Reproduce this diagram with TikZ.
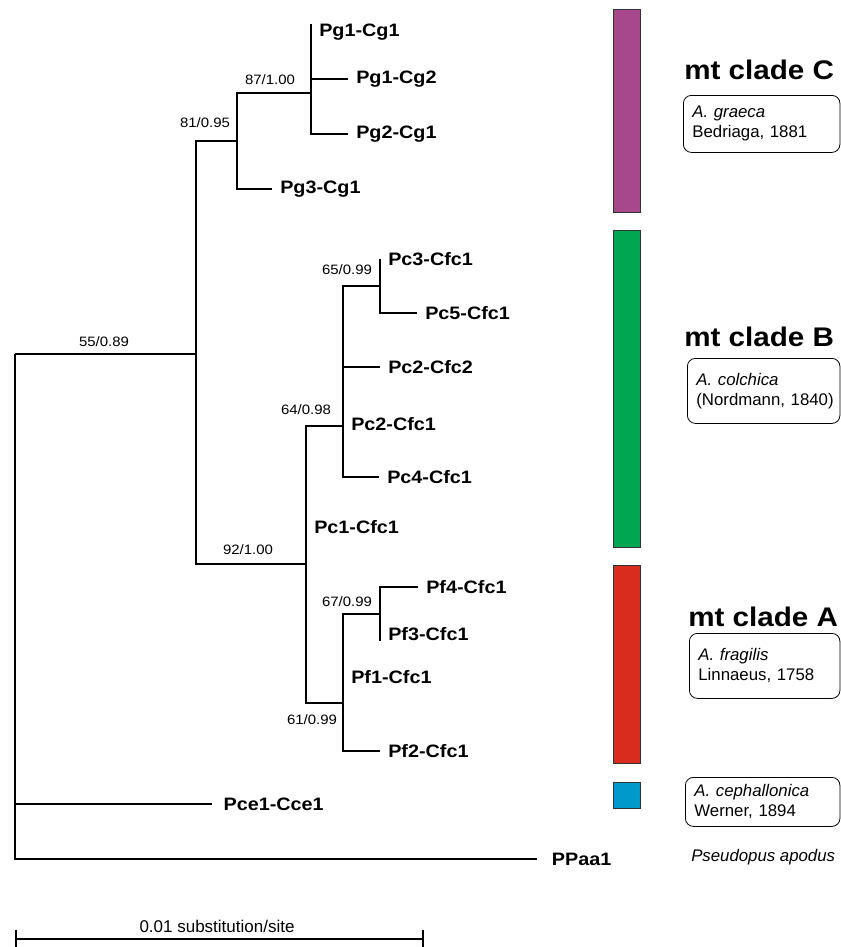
\documentclass[tikz,border=0pt]{standalone}
\usepackage{fontspec}
\setmainfont{Liberation Sans}
\newfontfamily\treefont{Liberation Sans}[FakeStretch=1.1]
\usepackage{tikz}
\usetikzlibrary{positioning,calc}
\definecolor{cladeC}{RGB}{168,72,140}
\definecolor{cladeB}{RGB}{0,166,81}
\definecolor{cladeA}{RGB}{217,43,30}
\definecolor{cladeCe}{RGB}{0,153,204}

\begin{document}
\begin{tikzpicture}[
  x=0.75pt, y=-0.75pt,
  branch/.style={line width=0.8pt},
  leaf/.style={anchor=west,inner xsep=6pt,inner ysep=0pt,
              font=\treefont\bfseries\fontsize{13.5}{16}\selectfont},
  supp/.style={inner sep=0pt,font=\treefont\fontsize{10.2}{12}\selectfont},
  clade/.style={anchor=west,inner sep=0pt,
              font=\treefont\bfseries\fontsize{20.2}{24}\selectfont},
  taxbox/.style={draw,rounded corners=6pt,anchor=north west,align=left,
              line width=0.6pt,inner xsep=6.75pt,inner ysep=0pt,
              font=\fontsize{12.6}{15}\selectfont},
  bar/.style={draw=black!80,line width=0.6pt}]
\useasboundingbox (0,0) rectangle (840,947);
\coordinate (root) at (15,354);
\coordinate (n55) at (196,354);
\coordinate (n81) at (237,141);
\coordinate (n87) at (311,93);
\coordinate (n92) at (306,564);
\coordinate (n64) at (343,426);
\coordinate (n65) at (380,286);
\coordinate (n61) at (343,703);
\coordinate (n67) at (380,614);
\node[leaf] (pg1cg1) at (311,32) {Pg1-Cg1};
\node[leaf] (pg1cg2) at (348,79) {Pg1-Cg2};
\node[leaf] (pg2cg1) at (348,134) {Pg2-Cg1};
\node[leaf] (pg3cg1) at (272,189) {Pg3-Cg1};
\node[leaf] (pc3cfc1) at (380,259) {Pc3-Cfc1};
\node[leaf] (pc5cfc1) at (417,313) {Pc5-Cfc1};
\node[leaf] (pc2cfc2) at (380,367) {Pc2-Cfc2};
\node[leaf] (pc2cfc1) at (343,424) {Pc2-Cfc1};
\node[leaf] (pc4cfc1) at (379,477) {Pc4-Cfc1};
\node[leaf] (pc1cfc1) at (306,527) {Pc1-Cfc1};
\node[leaf] (pf4cfc1) at (418,587) {Pf4-Cfc1};
\node[leaf] (pf3cfc1) at (380,634) {Pf3-Cfc1};
\node[leaf] (pf1cfc1) at (343,677) {Pf1-Cfc1};
\node[leaf] (pf2cfc1) at (380,751) {Pf2-Cfc1};
\node[leaf,inner xsep=8.5pt] (pce1cce1) at (212,804) {Pce1-Cce1};
\node[leaf,inner xsep=11pt] (ppaa1) at (537,859) {PPaa1};
\draw[branch] (root) -- (n55);
\draw[branch] (root) |- (pce1cce1.west);
\draw[branch] (root) |- (ppaa1.west);
\draw[branch] (n55) |- (n81);
\draw[branch] (n55) |- (n92);
\draw[branch] (n81) |- (n87);
\draw[branch] (n81) |- (pg3cg1.west);
\draw[branch] (n87) -- (n87 |- pg1cg1.north);
\draw[branch] (n87) |- (pg1cg2.west);
\draw[branch] (n87) |- (pg2cg1.west);
\draw[branch] (n92) |- (n64);
\draw[branch] (n92) |- (n61);
\draw[branch] (n64) |- (n65);
\draw[branch] (n64) |- (pc2cfc2.west);
\draw[branch] (n64) |- (pc4cfc1.west);
\draw[branch] (n65) -- (n65 |- pc3cfc1.west);
\draw[branch] (n65) |- (pc5cfc1.west);
\draw[branch] (n61) |- (n67);
\draw[branch] (n61) |- (pf2cfc1.west);
\draw[branch] (n67) |- (pf4cfc1.west);
\draw[branch] (n67) -- (n67 |- pf3cfc1.south);
\node[supp] (s55) at (104,342) {55/0.89};
\node[supp] (s81) at (205,123) {81/0.95};
\node[supp] (s87) at (270,80) {87/1.00};
\node[supp] (s92) at (248,550) {92/1.00};
\node[supp] (s64) at (306,410) {64/0.98};
\node[supp] (s65) at (347,270) {65/0.99};
\node[supp] (s61) at (312,720) {61/0.99};
\node[supp] (s67) at (347,602) {67/0.99};
\draw[bar,fill=cladeC] (613,9) rectangle (640,212);
\draw[bar,fill=cladeB] (613,230) rectangle (640,547);
\draw[bar,fill=cladeA] (613,565) rectangle (640,763);
\draw[bar,fill=cladeCe] (613,782) rectangle (640,808);
\node[clade] (titleC) at (684,70) {mt clade C};
\node[clade] (titleB) at (684,337) {mt clade B};
\node[clade] (titleA) at (688,617) {mt clade A};
\node[taxbox,text width=103.9pt,minimum height=42.75pt] (boxC) at (683,95)
  {\textit{A. graeca}\\Bedriaga,~1881};
\node[taxbox,text width=100.9pt,minimum height=48.75pt] (boxB) at (687,358)
  {\textit{A. colchica}\\(Nordmann,~1840)};
\node[taxbox,text width=99.4pt,minimum height=48.75pt] (boxA) at (689,633)
  {\textit{A. fragilis}\\Linnaeus,~1758};
\node[taxbox,text width=102.4pt,minimum height=36.75pt] (boxCe) at (685,777)
  {\textit{A. cephallonica}\\Werner,~1894};
\node[anchor=west,inner sep=0pt,font=\itshape\fontsize{12.6}{15}\selectfont]
  (outgroup) at (691,857) {Pseudopus apodus};
\coordinate (sbl) at (16,939);
\coordinate (sbr) at (423,939);
\draw[branch] (sbl) -- (sbr);
\draw[branch] ([yshift=7pt]sbl) -- ([yshift=-8pt]sbl);
\draw[branch] ([yshift=7pt]sbr) -- ([yshift=-8pt]sbr);
\node[inner sep=0pt,font=\fontsize{12.75}{15}\selectfont] (scalelab) at (217,926)
  {0.01 substitution/site};
\end{tikzpicture}
\end{document}
